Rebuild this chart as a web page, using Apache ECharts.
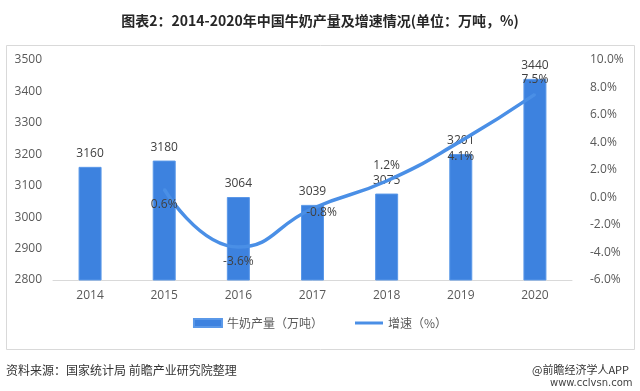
<!DOCTYPE html>
<html><head><meta charset="utf-8">
<script src="https://cdn.jsdelivr.net/npm/echarts@6/dist/echarts.min.js"></script>
<style>html,body{margin:0;padding:0;background:#fff}#c{width:640px;height:391px}</style>
</head><body><div id="c"></div>
<script>
const years = ['2014','2015','2016','2017','2018','2019','2020'];
const milkOutput = [3160, 3180, 3064, 3039, 3075, 3201, 3440];
const growthRate = [null, 0.6, -3.6, -0.8, 1.2, 4.1, 7.5];
const growthLabelPos = ['bottom','bottom','bottom','bottom','top','bottom','top'];
const growthLabelOffset = [[0,0],[0,0],[0,0],[9,-11],[0,0],[0,0],[0,0]];
const titleText = '图表2：2014-2020年中国牛奶产量及增速情况(单位：万吨，%)';
const sourceText = '资料来源：国家统计局 前瞻产业研究院整理';

const FONT = '"Open Sans","Noto Sans CJK SC",sans-serif';
const LINE_COLOR = '#4a8fe6';
const chart = echarts.init(document.getElementById('c'));
chart.setOption({
  animation: false,
  backgroundColor: '#fff',
  title: {text: titleText, left: 'center', top: 9,
    textStyle: {fontSize: 14, fontWeight: 'bold', color: '#262626', fontFamily: '"Noto Sans CJK SC",sans-serif'}},
  graphic: [
    {type: 'rect', left: 4, top: 43, shape: {width: 628, height: 304}, style: {fill: 'none', stroke: '#d9d9d9', lineWidth: 1}, silent: true},
    {type: 'text', left: 6, top: 364, style: {text: sourceText, fill: '#333', font: '12px "Noto Sans CJK SC",sans-serif'}},
    {type: 'text', left: 532, top: 364, style: {text: '@前瞻经济学人APP', fill: '#333', font: '11px "Noto Sans CJK SC",sans-serif'}},
    {type: 'text', left: 550, top: 378, style: {text: 'www.cclvsn.com', fill: '#444', font: '10px "DejaVu Sans",sans-serif'}}
  ],
  legend: {
    bottom: 57, left: 'center', itemGap: 32, itemWidth: 28, itemHeight: 8,
    textStyle: {fontSize: 12, color: '#595959', fontFamily: '"Noto Sans CJK SC",sans-serif'},
    data: [
      {name: '牛奶产量（万吨）', icon: 'rect'},
      {name: '增速（%）', icon: 'path://M0,0 H28 V3 H0 Z', itemStyle: {color: LINE_COLOR, opacity: 1}}
    ]
  },
  grid: {left: 53, right: 68, top: 60, bottom: 111},
  xAxis: {
    type: 'category', data: years,
    axisLine: {onZero: false, lineStyle: {color: '#d9d9d9'}},
    axisTick: {show: false},
    axisLabel: {color: '#595959', fontSize: 12, margin: 10, fontFamily: FONT}
  },
  yAxis: [
    {type: 'value', min: 2800, max: 3500, interval: 100,
      axisLine: {show: false}, axisTick: {show: false}, splitLine: {show: false},
      axisLabel: {color: '#595959', fontSize: 12, margin: 11, fontFamily: FONT, formatter: v => String(v)}},
    {type: 'value', min: -6, max: 10, interval: 2,
      axisLine: {show: false}, axisTick: {show: false}, splitLine: {show: false},
      axisLabel: {color: '#595959', fontSize: 12, margin: 18, fontFamily: FONT,
        formatter: v => v.toFixed(1) + '%'}}
  ],
  series: [
    {name: '牛奶产量（万吨）', type: 'bar', data: milkOutput, barWidth: 23,
      itemStyle: {color: '#3d82df', borderColor: '#5a98e8', borderWidth: 1},
      label: {show: true, position: 'top', distance: 7, color: '#404040', fontSize: 12, fontFamily: FONT}},
    {name: '增速（%）', type: 'line', yAxisIndex: 1, smooth: 0.5, showSymbol: true, symbol: 'circle', symbolSize: 2,
      connectNulls: false,
      lineStyle: {color: LINE_COLOR, width: 3.5},
      itemStyle: {color: LINE_COLOR},
      data: growthRate.map((v, i) => ({value: v,
        label: {show: v !== null, position: growthLabelPos[i], distance: 8, offset: growthLabelOffset[i],
          color: '#404040', fontSize: 12, fontFamily: FONT}})),
      label: {show: true, color: '#404040', fontSize: 12, fontFamily: FONT,
        formatter: p => Number(p.value).toFixed(1) + '%'}}
  ]
});
</script></body></html>
